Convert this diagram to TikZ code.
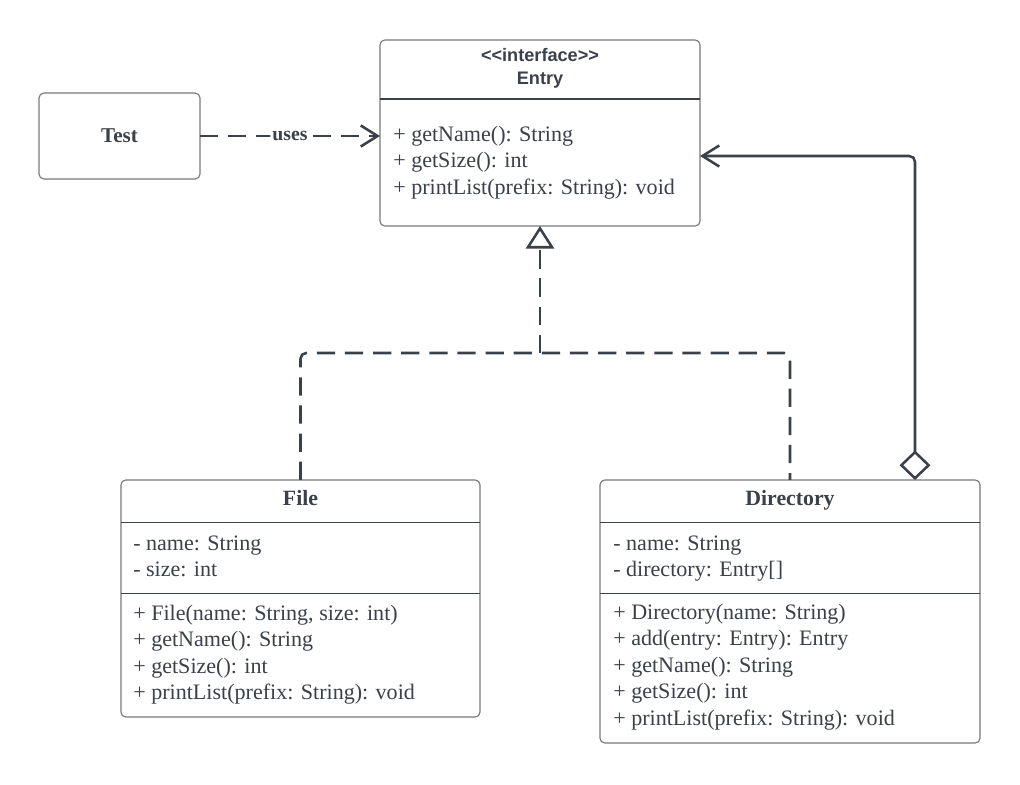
\documentclass[tikz,border=0pt]{standalone}
\usepackage{fontspec}
\setmainfont{Liberation Serif}
\newfontfamily\headfont{Liberation Sans}
\usepackage{xcolor}
\usetikzlibrary{arrows.meta}

\definecolor{ink}{HTML}{3A414A}
\definecolor{frame}{HTML}{75797F}

\tikzset{
  classbox/.style={draw=frame, line width=0.8pt, rounded corners=3.5pt, fill=white, inner sep=0pt, outer sep=0pt},
  member/.style={anchor=base west, inner sep=0pt, text=ink, font=\fontsize{15.7}{18.8}\selectfont},
  classname/.style={anchor=base, inner sep=0pt, text=ink, font=\fontsize{15.5}{18.6}\selectfont\bfseries},
  divider/.style={draw=ink, line width=0.8pt},
  link/.style={draw=ink, line width=1.8pt, line join=round, rounded corners=4pt},
  dashlink/.style={link, dash pattern=on 13pt off 7pt},
}

\begin{document}
\begin{tikzpicture}[x=0.025cm, y=-0.025cm]
  \useasboundingbox (0,0) rectangle (1020,784);

  % interface
  \node[classbox, minimum width=8cm, minimum height=4.65cm] (entry) at (540,133) {};
  \draw[divider] (entry.west |- 0,99) -- (entry.east |- 0,99);
  \node[anchor=base, inner sep=0pt, text=ink, font=\headfont\bfseries\fontsize{12.9}{15}\selectfont] (entrytag) at (540,61.7) {\textless\textless interface\textgreater\textgreater};
  \node[anchor=base, inner sep=0pt, text=ink, font=\headfont\bfseries\fontsize{12.9}{15}\selectfont] (entryname) at (540,84.3) {Entry};
  \foreach \txt [count=\i] in {+ getName(): String, + getSize(): int, {+ printList(prefix: String): void}}
    \node[member] (entryop\i) at (393,{141+26.5*(\i-1)}) {\txt};

  % client
  \node[classbox, minimum width=4.025cm, minimum height=2.15cm, text=ink, font=\fontsize{15}{18}\selectfont\bfseries] (test) at (119.5,136) {Test};

  % File
  \node[classbox, minimum width=8.975cm, minimum height=5.925cm] (file) at (300.5,598.5) {};
  \draw[divider] (file.west |- 0,522.3) -- (file.east |- 0,522.3);
  \draw[divider] (file.west |- 0,593.3) -- (file.east |- 0,593.3);
  \node[classname] (filename) at (300.5,505.7) {File};
  \foreach \txt [count=\i] in {- name: String, - size: int}
    \node[member] (fileattr\i) at (133,{550+26.5*(\i-1)}) {\txt};
  \foreach \txt [count=\i] in {{+ File(name: String, size: int)}, + getName(): String, + getSize(): int, {+ printList(prefix: String): void}}
    \node[member] (fileop\i) at (133,{620+26.5*(\i-1)}) {\txt};

  % Directory
  \node[classbox, minimum width=9.5cm, minimum height=6.575cm] (dir) at (790,611.5) {};
  \draw[divider] (dir.west |- 0,522.3) -- (dir.east |- 0,522.3);
  \draw[divider] (dir.west |- 0,593.3) -- (dir.east |- 0,593.3);
  \node[classname] (dirname) at (790,505.7) {Directory};
  \foreach \txt [count=\i] in {- name: String, - directory: Entry[]}
    \node[member] (dirattr\i) at (613,{550+26.5*(\i-1)}) {\txt};
  \foreach \txt [count=\i] in {+ Directory(name: String), + add(entry: Entry): Entry, + getName(): String, + getSize(): int, {+ printList(prefix: String): void}}
    \node[member] (dirop\i) at (613,{619+26.5*(\i-1)}) {\txt};

  % relations
  \draw[dashlink, -{Straight Barb[length=12pt,width=15pt]}] (test.east) -- (test.east -| entry.west)
    node[midway, fill=white, inner sep=1.5pt, text=ink, font=\fontsize{14}{16}\selectfont\bfseries] (uses) {uses};

  \coordinate (join) at (entry.south |- 0,353);
  \draw[dashlink] (file.north) |- (join) -| (dir.north);
  \draw[dashlink, -{Triangle[length=16pt,width=20pt,fill=white]}] (join) -- (entry.south);

  \coordinate (whole) at (dir.north -| 915,0);
  \draw[link, {Diamond[length=21pt,width=22pt,fill=white]}-{Straight Barb[length=12pt,width=15pt]}] (whole) |- (entry.east |- 0,156);
\end{tikzpicture}
\end{document}
